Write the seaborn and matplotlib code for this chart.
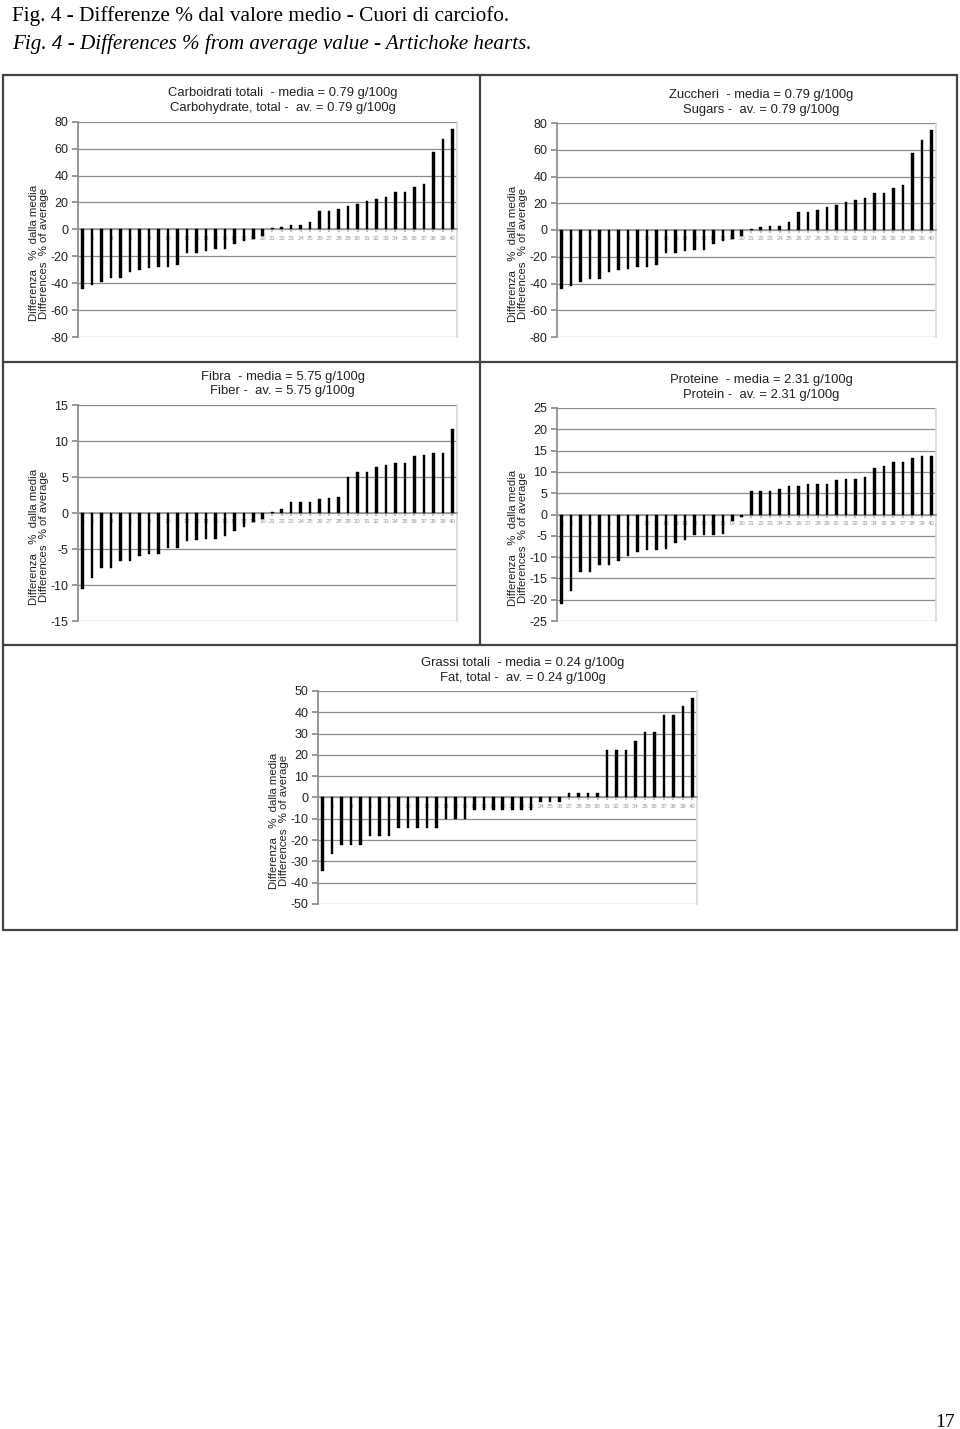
import matplotlib
matplotlib.use("Agg")
import matplotlib.pyplot as plt
import seaborn as sns
import pandas as pd
from matplotlib.lines import Line2D

sns.set_theme(style="white")
plt.rcParams['font.family'] = ['Liberation Sans', 'DejaVu Sans']
plt.rcParams['axes.unicode_minus'] = False

samples = [str(i) for i in range(1, 41)]

carbo = [-44, -41.7, -38.8, -36.5, -36.5, -31.4, -29.9, -28.9, -27.7, -27.7,
         -26.2, -17.3, -17.3, -15.8, -14.8, -14.8, -10.6, -8.4, -6.9, -4.7,
         1.0, 2.0, 3.2, 3.2, 5.7, 13.6, 13.6, 14.8, 17.3, 18.5,
         21.2, 22.2, 23.7, 27.7, 27.7, 31.4, 33.8, 57.8, 67.2, 74.8]
sugars = [-44, -41.7, -38.8, -36.5, -36.5, -31.4, -29.9, -28.9, -27.7, -27.7,
          -26.2, -17.3, -17.3, -15.8, -14.8, -14.8, -10.6, -8.4, -6.9, -4.7,
          1.0, 2.0, 3.2, 3.2, 5.7, 13.6, 13.6, 14.8, 17.3, 18.5,
          21.2, 22.2, 23.7, 27.7, 27.7, 31.4, 33.8, 57.8, 67.2, 74.8]
fiber = [-10.5, -9.0, -7.7, -7.6, -6.7, -6.7, -6.0, -5.7, -5.7, -4.8,
         -4.8, -3.9, -3.75, -3.6, -3.6, -3.15, -2.5, -2.0, -1.2, -0.8,
         0.1, 0.5, 1.5, 1.5, 1.5, 1.9, 2.1, 2.2, 5.0, 5.7,
         5.7, 6.4, 6.6, 7.0, 7.0, 7.9, 8.1, 8.3, 8.3, 11.7]
protein = [-20.9, -18.0, -13.5, -13.5, -11.9, -11.9, -11.0, -9.8, -8.9, -8.4,
           -8.4, -8.1, -6.7, -5.9, -4.9, -4.9, -4.9, -4.5, -1.5, -0.7,
           5.4, 5.4, 5.4, 5.9, 6.7, 6.7, 7.1, 7.1, 7.1, 8.0,
           8.4, 8.4, 8.8, 11.0, 11.5, 12.4, 12.4, 13.2, 13.7, 13.7]
fat = [-34.5, -26.3, -22.5, -22.5, -22.5, -18.3, -18.3, -18.3, -14.2, -14.2,
       -14.2, -14.2, -14.2, -10.2, -10.2, -10.2, -6.0, -6.0, -6.0, -6.0,
       -6.0, -6.0, -6.0, -2.0, -2.0, -2.0, 2.0, 2.0, 2.0, 2.0,
       22.5, 22.5, 22.5, 26.5, 30.6, 30.6, 38.6, 38.6, 42.8, 46.8]

titles = ["Carboidrati totali  - media = 0.79 g/100g\nCarbohydrate, total -  av. = 0.79 g/100g",
          "Zuccheri  - media = 0.79 g/100g\nSugars -  av. = 0.79 g/100g",
          "Fibra  - media = 5.75 g/100g\nFiber -  av. = 5.75 g/100g",
          "Proteine  - media = 2.31 g/100g\nProtein -  av. = 2.31 g/100g",
          "Grassi totali  - media = 0.24 g/100g\nFat, total -  av. = 0.24 g/100g"]
ylims = [(-80, 80, 20), (-80, 80, 20), (-15, 15, 5), (-25, 25, 5), (-50, 50, 10)]
series = [carbo, sugars, fiber, protein, fat]
ylabel = "Differenza   %  dalla media\nDifferences  % of average"

W, H = 960, 1429
fig = plt.figure(figsize=(W / 100, H / 100), dpi=100)

# axes boxes in pixels: left, top, right, bottom
boxes = [(78, 121.7, 457, 337), (557, 123, 936, 337),
         (78, 405, 457, 621), (557, 408, 936, 621),
         (318, 691, 697, 904)]

for vals, title, (lo, hi, step), (l, t, r, b) in zip(series, titles, ylims, boxes):
    ax = fig.add_axes([l / W, 1 - b / H, (r - l) / W, (b - t) / H])
    df = pd.DataFrame({"sample": samples, "value": vals})
    sns.barplot(data=df, x="sample", y="value", order=samples, color="black",
                saturation=1, width=0.27, ax=ax, linewidth=0)
    for p in ax.patches:
        p.set_zorder(3)
        p.set_edgecolor("black")
        p.set_linewidth(0.3)
    ax.set_xlim(-0.5, 39.5)
    ax.set_ylim(lo, hi)
    ax.set_yticks(list(range(lo, hi + 1, step)))
    ax.yaxis.grid(True, color="#8c8c8c", lw=0.9, zorder=0)
    ax.set_axisbelow(True)
    ax.set_xlabel("")
    ax.set_ylabel("")
    ax.spines["top"].set_visible(False)
    ax.spines["right"].set_color("#d8d8d8")
    ax.spines["left"].set_color("#8c8c8c")
    ax.spines["bottom"].set_position(("data", 0))
    ax.spines["bottom"].set_color("#9a9a9a")
    ax.tick_params(axis="y", left=True, length=4, color="#8c8c8c",
                   labelsize=9, labelcolor="#222222", pad=3)
    ax.tick_params(axis="x", bottom=True, length=2, color="#bbbbbb",
                   labelsize=4.3, labelcolor="#9a9a9a", pad=2.5)
    ax.text(0.54, 1.035, title, transform=ax.transAxes, ha="center", va="bottom",
            fontsize=9.4, color="#222222", linespacing=1.3)
    ax.text(-0.103, 0.39, ylabel, transform=ax.transAxes, ha="center", va="center",
            rotation=90, fontsize=8.2, color="#222222", multialignment="center",
            linespacing=1.0)

# panel frames
def fline(x0, y0, x1, y1, lw=1.6, c="#444444"):
    fig.add_artist(Line2D([x0 / W, x1 / W], [1 - y0 / H, 1 - y1 / H],
                          transform=fig.transFigure, color=c, lw=lw))

fline(3, 75, 957, 75)
fline(3, 930, 957, 930)
fline(3, 75, 3, 930)
fline(957, 75, 957, 930)
fline(3, 362, 957, 362)
fline(3, 645, 957, 645)
fline(480, 75, 480, 645)

fig.text(12 / W, 1 - 21 / H, "Fig. 4 - Differenze % dal valore medio - Cuori di carciofo.",
         family="Liberation Serif", fontsize=15.3, ha="left", va="baseline", color="black")
fig.text(12 / W, 1 - 49 / H, "Fig. 4 - Differences % from average value - Artichoke hearts.",
         family="Liberation Serif", style="italic", fontsize=15.2, ha="left",
         va="baseline", color="black")
fig.text(955 / W, 1 - 1427 / H, "17", family="Liberation Serif", fontsize=14,
         ha="right", va="baseline", color="black")

fig.savefig("out.png", dpi=100, facecolor="white")
